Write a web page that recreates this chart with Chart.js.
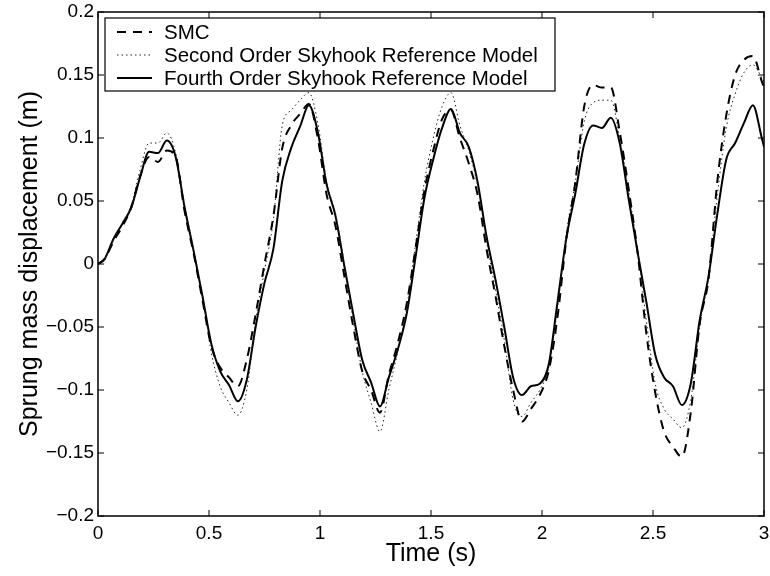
<!DOCTYPE html>
<html>
<head>
<meta charset="utf-8">
<script src="https://cdn.jsdelivr.net/npm/chart.js@4.4.1/dist/chart.umd.min.js"></script>
<style>
  html, body { margin: 0; padding: 0; background: #fff; }
  canvas { display: block; }
</style>
</head>
<body>
<canvas id="dispChart" width="770" height="576"></canvas>
<script>
  // Time samples (s), shared by the three traces
  const time = [
    0, 0.03, 0.07, 0.11, 0.15, 0.19, 0.23, 0.27, 0.31, 0.35,
    0.39, 0.43, 0.47, 0.51, 0.55, 0.59, 0.63, 0.67, 0.71, 0.75,
    0.79, 0.83, 0.87, 0.91, 0.95, 0.99, 1.03, 1.07, 1.11, 1.15,
    1.19, 1.23, 1.27, 1.31, 1.35, 1.39, 1.43, 1.47, 1.51, 1.55,
    1.59, 1.63, 1.67, 1.71, 1.75, 1.79, 1.83, 1.87, 1.91, 1.95,
    1.99, 2.03, 2.07, 2.11, 2.15, 2.19, 2.23, 2.27, 2.31, 2.35,
    2.39, 2.43, 2.47, 2.51, 2.55, 2.59, 2.63, 2.67, 2.71, 2.75,
    2.79, 2.83, 2.87, 2.91, 2.95, 2.99, 3.0
  ];

  // Sprung mass displacement (m)
  const smc = [
    0, 0.004, 0.018, 0.03, 0.045, 0.07, 0.085, 0.081, 0.09, 0.085,
    0.042, 0.009, -0.028, -0.065, -0.082, -0.09, -0.097, -0.076, -0.04, 0.0,
    0.038, 0.092, 0.11, 0.119, 0.127, 0.1, 0.055, 0.03, -0.01, -0.05,
    -0.085, -0.1, -0.118, -0.088, -0.063, -0.032, 0.012, 0.058, 0.09, 0.115,
    0.122, 0.1, 0.08, 0.055, 0.012, -0.025, -0.065, -0.1, -0.125, -0.115,
    -0.104, -0.085, -0.042, 0.02, 0.065, 0.125, 0.142, 0.14, 0.14, 0.105,
    0.06, 0.01, -0.055, -0.102, -0.133, -0.145, -0.153, -0.118, -0.048, -0.012,
    0.066, 0.118, 0.15, 0.162, 0.165, 0.145, 0.14
  ];
  const secondOrder = [
    0, 0.004, 0.02, 0.033, 0.047, 0.075, 0.096, 0.096, 0.104, 0.088,
    0.047, 0.012, -0.024, -0.07, -0.097, -0.11, -0.12, -0.1, -0.045, -0.005,
    0.035, 0.11, 0.122, 0.13, 0.136, 0.112, 0.065, 0.04, 0.0, -0.045,
    -0.085, -0.11, -0.133, -0.1, -0.07, -0.035, 0.015, 0.065, 0.1, 0.125,
    0.136, 0.11, 0.09, 0.062, 0.018, -0.02, -0.06, -0.108, -0.121, -0.11,
    -0.1, -0.082, -0.035, 0.025, 0.065, 0.113, 0.128, 0.13, 0.13, 0.1,
    0.058, 0.012, -0.045, -0.095, -0.115, -0.123, -0.13, -0.108, -0.05, -0.01,
    0.055, 0.108, 0.135, 0.152, 0.158, 0.148, 0.145
  ];
  const fourthOrder = [
    0, 0.004, 0.02, 0.032, 0.045, 0.069, 0.089, 0.088, 0.098, 0.085,
    0.045, 0.011, -0.025, -0.063, -0.085, -0.096, -0.109, -0.092, -0.05, -0.015,
    0.012, 0.066, 0.092, 0.109, 0.126, 0.105, 0.063, 0.038, -0.002, -0.04,
    -0.076, -0.094, -0.113, -0.09, -0.068, -0.04, 0.005, 0.052, 0.083, 0.108,
    0.123, 0.104, 0.093, 0.065, 0.022, -0.012, -0.05, -0.09, -0.104, -0.097,
    -0.095, -0.08, -0.03, 0.021, 0.056, 0.095, 0.11, 0.108, 0.116, 0.096,
    0.052, 0.01, -0.03, -0.072, -0.09, -0.097, -0.112, -0.095, -0.045, -0.01,
    0.04, 0.083, 0.096, 0.112, 0.126, 0.1, 0.093
  ];

  const seriesNames = ['SMC', 'Second Order Skyhook Reference Model', 'Fourth Order Skyhook Reference Model'];
  const xTicks = [0, 0.5, 1, 1.5, 2, 2.5, 3];
  const yTicks = [-0.2, -0.15, -0.1, -0.05, 0, 0.05, 0.1, 0.15, 0.2];

  const FONT = '"Liberation Sans", Arial, Helvetica, sans-serif';
  const toPoints = ys => time.map((t, i) => ({ x: t, y: ys[i] }));
  const fmt = v => String(v).replace('-', '\u2212');

  // box + inward ticks on all four sides, matlab style
  const frame = {
    id: 'frame',
    afterDraw(chart) {
      const { ctx, chartArea: a, scales } = chart;
      const len = 6;
      ctx.save();
      ctx.strokeStyle = '#000';
      ctx.lineWidth = 1;
      ctx.beginPath();
      xTicks.forEach(v => {
        const px = scales.x.getPixelForValue(v);
        ctx.moveTo(px, a.bottom); ctx.lineTo(px, a.bottom - len);
        ctx.moveTo(px, a.top); ctx.lineTo(px, a.top + len);
      });
      yTicks.forEach(v => {
        const py = scales.y.getPixelForValue(v);
        ctx.moveTo(a.left, py); ctx.lineTo(a.left + len, py);
        ctx.moveTo(a.right, py); ctx.lineTo(a.right - len, py);
      });
      ctx.stroke();
      ctx.lineWidth = 1.5;
      ctx.strokeRect(a.left, a.top, a.right - a.left, a.bottom - a.top);
      ctx.restore();
    }
  };

  // legend in a box, top left inside the axes
  const boxLegend = {
    id: 'boxLegend',
    afterDraw(chart) {
      const { ctx, chartArea: a } = chart;
      const x0 = a.left + 7, y0 = a.top + 6, w = 450, rowH = 23;
      const h = rowH * chart.data.datasets.length + 4;
      ctx.save();
      ctx.fillStyle = '#fff';
      ctx.fillRect(x0, y0, w, h);
      ctx.strokeStyle = '#000';
      ctx.lineWidth = 1.2;
      ctx.strokeRect(x0, y0, w, h);
      ctx.font = '20.5px ' + FONT;
      ctx.textBaseline = 'middle';
      chart.data.datasets.forEach((ds, i) => {
        const cy = y0 + 14 + i * rowH;
        ctx.setLineDash(ds.borderDash || []);
        ctx.lineWidth = ds.borderWidth;
        ctx.strokeStyle = ds.borderColor;
        ctx.beginPath();
        ctx.moveTo(x0 + 12, cy);
        ctx.lineTo(x0 + 47, cy);
        ctx.stroke();
        ctx.setLineDash([]);
        ctx.fillStyle = '#000';
        ctx.fillText(ds.label, x0 + 59, cy + 1);
      });
      ctx.restore();
    }
  };

  // keep the plot box fixed: no extra room for label overflow
  const noOverflow = s => {
    s.paddingLeft = 0; s.paddingRight = 0;
    s.paddingTop = 0; s.paddingBottom = 0;
  };

  const ctx = document.getElementById('dispChart').getContext('2d');
  const dispChart = new Chart(ctx, {
    type: 'line',
    data: {
      datasets: [{
        label: seriesNames[0],
        data: toPoints(smc),
        borderColor: '#000',
        borderWidth: 2,
        borderDash: [9, 7]
      }, {
        label: seriesNames[1],
        data: toPoints(secondOrder),
        borderColor: '#222',
        borderWidth: 1,
        borderDash: [1.5, 3]
      }, {
        label: seriesNames[2],
        data: toPoints(fourthOrder),
        borderColor: '#000',
        borderWidth: 2
      }]
    },
    options: {
      responsive: false,
      animation: false,
      layout: { padding: { top: 12, right: 6, left: 0, bottom: 0 } },
      elements: {
        point: { radius: 0 },
        line: { cubicInterpolationMode: 'monotone', fill: false }
      },
      scales: {
        x: {
          type: 'linear',
          min: 0,
          max: 3,
          afterBuildTicks: s => { s.ticks = xTicks.map(v => ({ value: v })); },
          afterFit: s => { s.height = 60; noOverflow(s); },
          grid: { display: false, drawTicks: false },
          border: { display: false },
          ticks: {
            color: '#000',
            padding: 6,
            maxRotation: 0,
            font: { family: FONT, size: 19 },
            callback: v => fmt(v)
          },
          title: {
            display: true,
            text: 'Time (s)',
            color: '#000',
            font: { family: FONT, size: 25 },
            padding: { top: 0, bottom: 7 }
          }
        },
        y: {
          min: -0.2,
          max: 0.2,
          afterBuildTicks: s => { s.ticks = yTicks.map(v => ({ value: v })); },
          afterFit: s => { s.width = 98; noOverflow(s); },
          grid: { display: false, drawTicks: false },
          border: { display: false },
          ticks: {
            color: '#000',
            padding: 4,
            font: { family: FONT, size: 19 },
            callback: v => fmt(v)
          },
          title: {
            display: true,
            text: 'Sprung mass displacement (m)',
            color: '#000',
            font: { family: FONT, size: 25 },
            padding: { top: 15, bottom: 0 }
          }
        }
      },
      plugins: {
        legend: { display: false },
        tooltip: { enabled: false }
      }
    },
    plugins: [frame, boxLegend]
  });
</script>
</body>
</html>
